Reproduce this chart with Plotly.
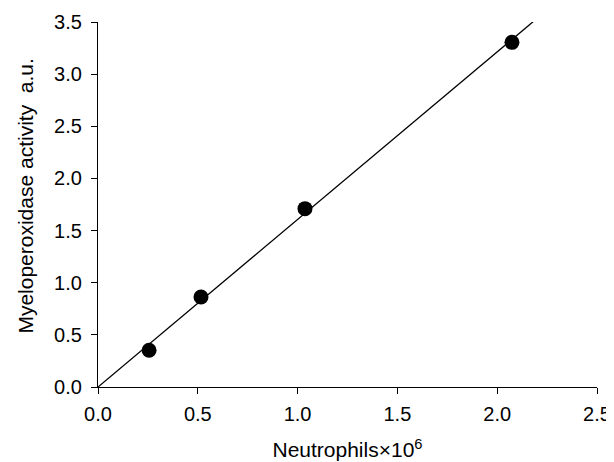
import plotly.graph_objects as go

# Data
neutrophils = [0.256, 0.516, 1.037, 2.074]          # x values (×10^6)
mpo_activity = [0.352, 0.863, 1.710, 3.305]         # y values (a.u.)
fit_x = [0.0, 2.218]                                 # regression line endpoints
fit_y = [0.0, 3.564]

x_ticks = [0.0, 0.5, 1.0, 1.5, 2.0, 2.5]
y_ticks = [0.0, 0.5, 1.0, 1.5, 2.0, 2.5, 3.0, 3.5]

FONT = "Liberation Sans, Arial, sans-serif"

fig = go.Figure()
fig.add_trace(go.Scatter(x=fit_x, y=fit_y, mode="lines",
                         line=dict(color="black", width=1.3),
                         showlegend=False, hoverinfo="skip"))
fig.add_trace(go.Scatter(x=neutrophils, y=mpo_activity, mode="markers",
                         marker=dict(color="black", size=15),
                         showlegend=False))

axis_common = dict(showgrid=False, zeroline=False, showline=True,
                   linecolor="black", linewidth=1.3, ticks="outside",
                   ticklen=6, tickwidth=1.3, tickcolor="black",
                   tickfont=dict(family=FONT, size=20, color="black"),
                   mirror=False, automargin=False,
                   ticklabeloverflow="allow")

fig.update_xaxes(range=[0, 2.5], tickvals=x_ticks,
                 ticktext=[f"{v:.1f}" for v in x_ticks],
                 title=dict(text="Neutrophils×10<sup>6</sup>",
                            font=dict(family=FONT, size=21, color="black"),
                            standoff=18),
                 ticklabelstandoff=3,
                 **axis_common)
fig.update_yaxes(range=[0, 3.5], tickvals=y_ticks,
                 ticktext=[f"{v:.1f}" for v in y_ticks],
                 ticklabelstandoff=5,
                 **axis_common)

fig.add_annotation(text="Myeloperoxidase activity  a.u.",
                   xref="paper", yref="paper", x=-0.146, y=0.522,
                   xanchor="center", yanchor="middle", textangle=-90,
                   showarrow=False,
                   font=dict(family=FONT, size=21, color="black"))

# page body has an 8px margin, so the figure is offset by 8px
fig.update_layout(template="none", width=606, height=454,
                  margin=dict(l=90, r=17, t=14, b=75),
                  plot_bgcolor="white", paper_bgcolor="white",
                  font=dict(family=FONT, color="black"))

fig.write_html("out.html")
